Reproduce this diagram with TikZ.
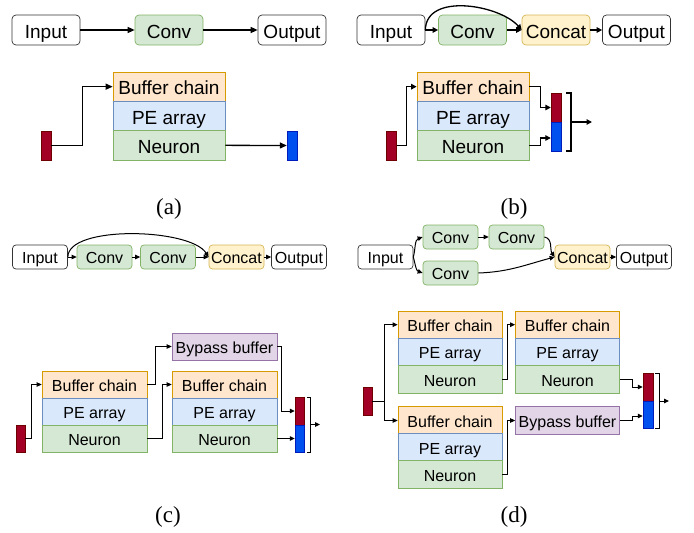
\documentclass[tikz,border=0pt]{standalone}
\usepackage{fontspec}
\setmainfont{Liberation Sans}
\newfontfamily\capfont{Liberation Serif}
\usetikzlibrary{arrows.meta}
\definecolor{orgF}{HTML}{FFE6CC}\definecolor{orgD}{HTML}{D79B00}
\definecolor{bluF}{HTML}{DAE8FC}\definecolor{bluD}{HTML}{6C8EBF}
\definecolor{grnF}{HTML}{D5E8D4}\definecolor{grnD}{HTML}{82B366}
\definecolor{ylwF}{HTML}{FFF2CC}\definecolor{ylwD}{HTML}{D6B656}
\definecolor{purF}{HTML}{E1D5E7}\definecolor{purD}{HTML}{9673A6}
\definecolor{redB}{HTML}{A20025}\definecolor{redD}{HTML}{6F0000}
\definecolor{bluB}{HTML}{0050EF}\definecolor{bluBD}{HTML}{001DBC}
\tikzset{
 base/.style={draw, line width=0.7pt, inner sep=0pt, align=center},
 bigtxt/.style={font=\fontsize{19}{21}\selectfont, text height=16.4pt, text depth=0pt},
 smltxt/.style={font=\fontsize{16}{18}\selectfont, text height=13.6pt, text depth=0pt},
 wbox/.style={base, draw=black!80, fill=white},
 gbox/.style={base, draw=grnD, fill=grnF},
 obox/.style={base, draw=orgD, fill=orgF},
 bbox/.style={base, draw=bluD, fill=bluF},
 ybox/.style={base, draw=ylwD, fill=ylwF},
 pbox/.style={base, draw=purD, fill=purF},
 rbar/.style={draw=redD, fill=redB, line width=0.4pt, inner sep=0pt},
 bbar/.style={draw=bluBD, fill=bluB, line width=0.4pt, inner sep=0pt},
 topA/.style={bigtxt, minimum width=68pt, minimum height=30pt, rounded corners=4pt},
 stkA/.style={bigtxt, minimum width=112pt, minimum height=29.33pt},
 barA/.style={minimum width=10pt, minimum height=29pt},
 topC/.style={smltxt, minimum width=55pt, minimum height=24pt, rounded corners=3.5pt},
 stkC/.style={smltxt, minimum width=105pt, minimum height=27pt},
 stkD/.style={smltxt, minimum width=104pt, minimum height=27.33pt},
 barC/.style={minimum width=9pt, minimum height=27.5pt},
 arrA/.style={line width=1.3pt, -{Triangle[length=7pt,width=6pt]}},
 arrB/.style={line width=1.3pt, -{Triangle[length=5.5pt,width=5.5pt]}},
 arrC/.style={line width=1pt, -{Triangle[length=5pt,width=4.5pt]}},
 brkA/.style={line width=1.3pt},
 brkC/.style={line width=1pt},
 caplbl/.style={font=\capfont\fontsize{23}{25}\selectfont}
}
\begin{document}
\begin{tikzpicture}[x=1pt,y=-1pt]
\useasboundingbox (0,0) rectangle (694,533);
% ---------------- (a)
\node[wbox,topA] (aIn) at (46,30) {Input};
\node[gbox,topA] (aConv) at (169,30) {Conv};
\node[wbox,topA] (aOut) at (292,30) {Output};
\draw[arrA] (aIn.east) -- (aConv.west);
\draw[arrA] (aConv.east) -- (aOut.west);
\node[obox,stkA] (aBC) at (169,86.67) {Buffer chain};
\node[bbox,stkA] (aPE) at (169,116) {PE array};
\node[gbox,stkA] (aN) at (169,145.33) {Neuron};
\node[rbar,barA] (aRed) at (46,145.5) {};
\node[bbar,barA] (aBlue) at (292,145.5) {};
\draw[arrA] (aRed.east) -- ++(31,0) |- (aBC.west);
\draw[arrA] (aN.east) -- (aBlue.west);
\node[caplbl] (capA) at (169,209) {(a)};
% ---------------- (b)
\node[wbox,topA] (bIn) at (391,30) {Input};
\node[gbox,topA] (bConv) at (472.5,30) {Conv};
\node[ybox,topA] (bCat) at (556,30) {Concat};
\node[wbox,topA] (bOut) at (636.5,30) {Output};
\draw[arrB] (bIn.east) -- (bConv.west);
\draw[arrB] (bConv.east) -- (bCat.west);
\draw[arrB] (bCat.east) -- (bOut.west);
\draw[arrB] (bIn.east) .. controls (426,-8) and (500,5) .. (bCat.west);
\node[obox,stkA] (bBC) at (473,86.67) {Buffer chain};
\node[bbox,stkA] (bPE) at (473,116) {PE array};
\node[gbox,stkA] (bN) at (473,145.33) {Neuron};
\node[rbar,barA] (bRed) at (391.5,145.5) {};
\node[rbar,barA] (bRedO) at (556,107.5) {};
\node[bbar,barA] (bBlueO) at (556,136.5) {};
\draw[arrB] (bRed.east) -- ++(10,0) |- (bBC.west);
\draw[arrB] (bBC.east) -- ++(11,0) |- (bRedO.west);
\draw[arrB] (bN.east) -- ++(11,0) |- ([yshift=-1.5pt]bBlueO.west);
\coordinate (bK1) at (566,93);
\coordinate (bK2) at (571,93);
\coordinate (bK3) at (571,151);
\coordinate (bK4) at (566,151);
\coordinate (bKm) at (571,122);
\coordinate (bKe) at (592,122);
\draw[brkA] (bK1) -- (bK2) -- (bK3) -- (bK4);
\draw[arrB] (bKm) -- (bKe);
\node[caplbl] (capB) at (514,209) {(b)};
% ---------------- (c)
\node[wbox,topC] (cIn) at (40,257) {Input};
\node[gbox,topC] (cConv1) at (104.5,257) {Conv};
\node[gbox,topC] (cConv2) at (168,257) {Conv};
\node[ybox,topC] (cCat) at (236.5,257) {Concat};
\node[wbox,topC] (cOut) at (299,257) {Output};
\draw[arrC] (cIn.east) -- (cConv1.west);
\draw[arrC] (cConv1.east) -- (cConv2.west);
\draw[arrC] (cConv2.east) -- (cCat.west);
\draw[arrC] (cCat.east) -- (cOut.west);
\draw[arrC] (cIn.east) .. controls (68,225) and (190,228) .. (cCat.west);
\node[pbox,stkC] (cBy) at (224.5,346.5) {Bypass buffer};
\node[obox,stkC] (cBC1) at (94.5,384.5) {Buffer chain};
\node[bbox,stkC] (cPE1) at (94.5,411.5) {PE array};
\node[gbox,stkC] (cN1) at (94.5,438.5) {Neuron};
\node[obox,stkC] (cBC2) at (224.5,384.5) {Buffer chain};
\node[bbox,stkC] (cPE2) at (224.5,411.5) {PE array};
\node[gbox,stkC] (cN2) at (224.5,438.5) {Neuron};
\node[rbar,barC] (cRed) at (20.5,438.5) {};
\node[rbar,barC] (cRedO) at (299.5,411) {};
\node[bbar,barC] (cBlueO) at (299.5,438.5) {};
\draw[arrC] (cRed.east) -- ++(6,0) |- (cBC1.west);
\draw[arrC] (cBC1.east) -- ++(8,0) |- (cBy.west);
\draw[arrC] (cN1.east) -- ++(15,0) |- (cBC2.west);
\draw[arrC] (cBy.east) -- ++(4,0) |- (cRedO.west);
\draw[arrC] (cN2.east) -- (cBlueO.west);
\coordinate (cK1) at (307,397);
\coordinate (cK2) at (310,397);
\coordinate (cK3) at (310,452);
\coordinate (cK4) at (307,452);
\coordinate (cKm) at (310,424.5);
\coordinate (cKe) at (320,424.5);
\draw[brkC] (cK1) -- (cK2) -- (cK3) -- (cK4);
\draw[arrC] (cKm) -- (cKe);
\node[caplbl] (capC) at (168,517) {(c)};
% ---------------- (d)
\node[wbox,topC] (dIn) at (385.5,257) {Input};
\node[gbox,topC] (dC1) at (450.5,237) {Conv};
\node[gbox,topC] (dC2) at (516.5,237) {Conv};
\node[gbox,topC] (dC3) at (450.5,273) {Conv};
\node[ybox,topC] (dCat) at (582.5,257) {Concat};
\node[wbox,topC] (dOut) at (644,257) {Output};
\draw[arrC] (dIn.east) to[out=75,in=200] (dC1.west);
\draw[arrC] (dIn.east) to[out=-75,in=160] (dC3.west);
\draw[arrC] (dC1.east) -- (dC2.west);
\draw[arrC] (dC2.east) to[out=-10,in=125] (dCat.west);
\draw[arrC] (dC3.east) to[out=2,in=195] (dCat.west);
\draw[arrC] (dCat.east) -- (dOut.west);
\node[obox,stkD] (dBCA) at (450,324.67) {Buffer chain};
\node[bbox,stkD] (dPEA) at (450,352) {PE array};
\node[gbox,stkD] (dNA) at (450,379.33) {Neuron};
\node[obox,stkD] (dBCB) at (567.5,324.67) {Buffer chain};
\node[bbox,stkD] (dPEB) at (567.5,352) {PE array};
\node[gbox,stkD] (dNB) at (567.5,379.33) {Neuron};
\node[obox,stkD] (dBCC) at (450,420.5) {Buffer chain};
\node[bbox,stkD] (dPEC) at (450,447.5) {PE array};
\node[gbox,stkD] (dNC) at (450,474.5) {Neuron};
\node[pbox,stkD] (dBy) at (567.5,420.5) {Bypass buffer};
\node[rbar,barC] (dRed) at (367.5,401) {};
\node[rbar,barC,minimum width=10pt] (dRedO) at (648,387) {};
\node[bbar,barC,minimum width=10pt] (dBlueO) at (648,414.5) {};
\draw[arrC] (dRed.east) -- ++(12,0) |- (dBCA.west);
\draw[arrC] (dRed.east) -- ++(12,0) |- (dBCC.west);
\draw[arrC] (dNA.east) -- ++(5,0) |- (dBCB.west);
\draw[arrC] (dNC.east) -- ++(5,0) |- (dBy.west);
\draw[arrC] (dNB.east) -- ++(13,0) |- (dRedO.west);
\draw[arrC] (dBy.east) -- ++(13,0) |- ([yshift=-1.5pt]dBlueO.west);
\coordinate (dK1) at (655,373);
\coordinate (dK2) at (659,373);
\coordinate (dK3) at (659,428);
\coordinate (dK4) at (655,428);
\coordinate (dKm) at (659,401);
\coordinate (dKe) at (669,401);
\draw[brkC] (dK1) -- (dK2) -- (dK3) -- (dK4);
\draw[arrC] (dKm) -- (dKe);
\node[caplbl] (capD) at (514,517) {(d)};
\end{tikzpicture}
\end{document}
